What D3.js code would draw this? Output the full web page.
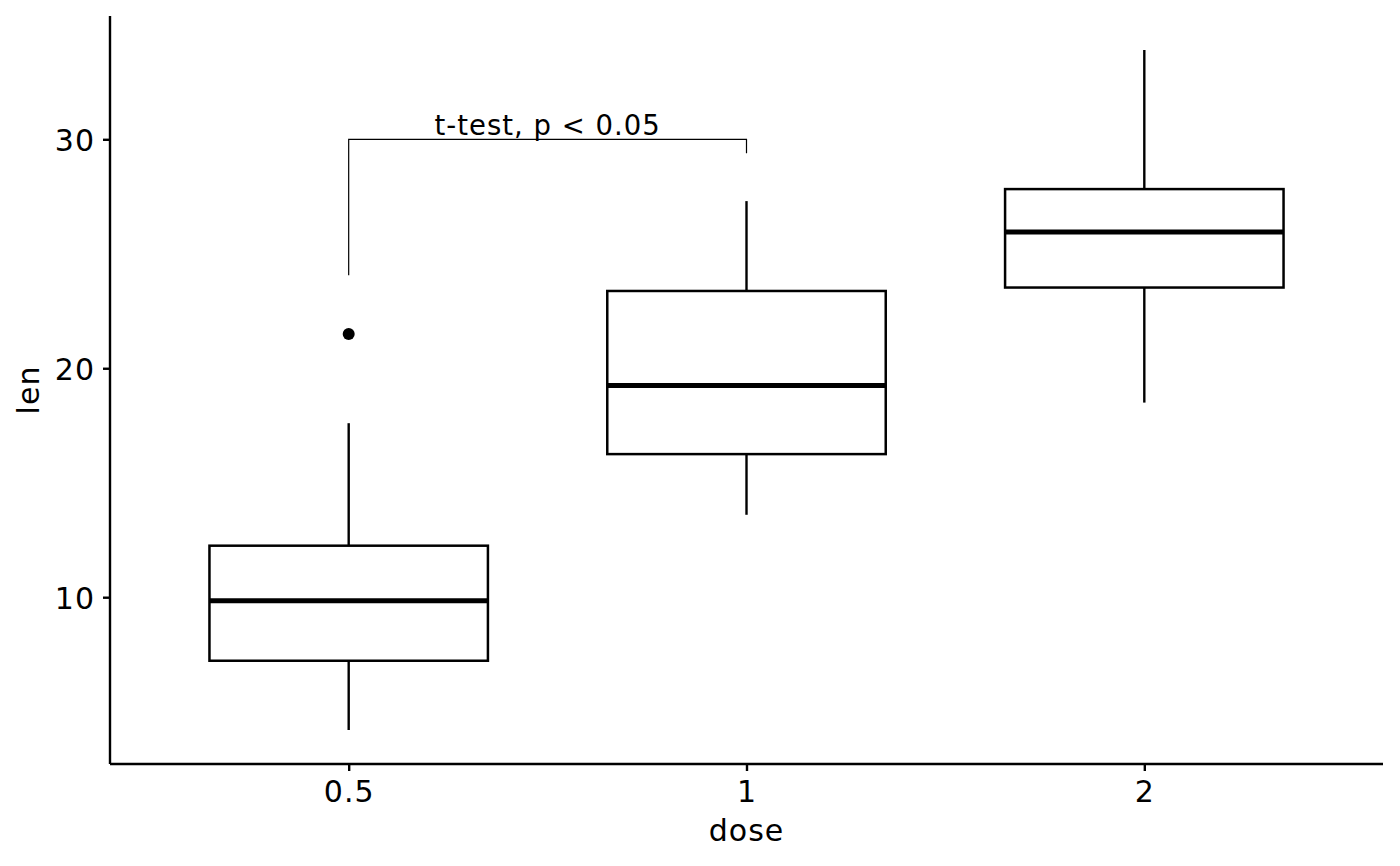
<!DOCTYPE html>
<html>
<head>
<meta charset="utf-8">
<script src="https://cdn.jsdelivr.net/npm/d3@7"></script>
<style>
  body { margin: 0; background: #fff; }
  text { font-family: "DejaVu Sans", sans-serif; }
</style>
</head>
<body>
<svg></svg>
<script>
'use strict';

const svgWidth = 1400;
const svgHeight = 866;

// ToothGrowth len by dose, box statistics
const doses = ['0.5', '1', '2'];
const lowerWhisker = [4.2, 13.6, 18.5];
const q1 = [7.225, 16.25, 23.525];
const medians = [9.85, 19.25, 25.95];
const q3 = [12.25, 23.375, 27.825];
const upperWhisker = [17.6, 27.3, 33.9];
const outliers = [{ dose: '0.5', len: 21.5 }];

const yTicks = [10, 20, 30];

// comparison bracket
const bracket = { from: '0.5', to: '1', y: 30, tipLeft: 24.06, tipRight: 29.39, label: 't-test, p < 0.05' };

const margin = { top: 16, right: 17, bottom: 102, left: 110 };
const innerW = svgWidth - margin.left - margin.right;
const innerH = svgHeight - margin.top - margin.bottom;

const svg = d3.select('svg')
  .attr('width', svgWidth)
  .attr('height', svgHeight);

const g = svg.append('g')
  .attr('transform', `translate(${margin.left},${margin.top})`);

// discrete scale with ggplot-like 0.6 expansion
const xIndex = d3.scaleLinear()
  .domain([-0.6, doses.length - 1 + 0.6])
  .range([0, innerW]);
const x = d => xIndex(doses.indexOf(d));
const step = xIndex(1) - xIndex(0);
const boxW = step * 0.7;

const yMin = 4.2, yMax = 33.9;
const pad = (yMax - yMin) * 0.05;
const y = d3.scaleLinear()
  .domain([yMin - pad, yMax + pad])
  .range([innerH, 0]);

const boxes = doses.map((d, i) => ({
  dose: d, lo: lowerWhisker[i], q1: q1[i], med: medians[i], q3: q3[i], hi: upperWhisker[i]
}));

const boxG = g.append('g');

// whiskers
boxG.selectAll('line.wlo')
  .data(boxes)
  .join('line')
  .attr('x1', d => x(d.dose)).attr('x2', d => x(d.dose))
  .attr('y1', d => y(d.lo)).attr('y2', d => y(d.q1))
  .attr('stroke', 'black').attr('stroke-width', 2.4);

boxG.selectAll('line.whi')
  .data(boxes)
  .join('line')
  .attr('x1', d => x(d.dose)).attr('x2', d => x(d.dose))
  .attr('y1', d => y(d.q3)).attr('y2', d => y(d.hi))
  .attr('stroke', 'black').attr('stroke-width', 2.4);

boxG.selectAll('rect')
  .data(boxes)
  .join('rect')
  .attr('x', d => x(d.dose) - boxW / 2)
  .attr('width', boxW)
  .attr('y', d => y(d.q3))
  .attr('height', d => y(d.q1) - y(d.q3))
  .attr('fill', 'white')
  .attr('stroke', 'black')
  .attr('stroke-width', 2.5);

boxG.selectAll('line.med')
  .data(boxes)
  .join('line')
  .attr('x1', d => x(d.dose) - boxW / 2).attr('x2', d => x(d.dose) + boxW / 2)
  .attr('y1', d => y(d.med)).attr('y2', d => y(d.med))
  .attr('stroke', 'black').attr('stroke-width', 5);

boxG.selectAll('circle')
  .data(outliers)
  .join('circle')
  .attr('cx', d => x(d.dose))
  .attr('cy', d => y(d.len))
  .attr('r', 6)
  .attr('fill', 'black');

// bracket
const bx1 = x(bracket.from), bx2 = x(bracket.to);
g.append('path')
  .attr('d', `M${bx1},${y(bracket.tipLeft)} V${y(bracket.y)} H${bx2} V${y(bracket.tipRight)}`)
  .attr('fill', 'none')
  .attr('stroke', 'black')
  .attr('stroke-width', 1.2);

g.append('text')
  .attr('x', (bx1 + bx2) / 2)
  .attr('y', y(bracket.y) - 4)
  .attr('text-anchor', 'middle')
  .attr('font-size', 27.5)
  .attr('letter-spacing', 1)
  .attr('fill', 'black')
  .text(bracket.label);

// axes
const yAxis = g.append('g')
  .call(d3.axisLeft(y).tickValues(yTicks).tickSize(7).tickPadding(8));
const xAxis = g.append('g')
  .attr('transform', `translate(0,${innerH})`)
  .call(d3.axisBottom(xIndex).tickValues(d3.range(doses.length))
    .tickFormat(i => doses[i]).tickSize(7).tickPadding(8));

[yAxis, xAxis].forEach(a => {
  a.select('.domain').attr('stroke', 'black').attr('stroke-width', 2.4);
  a.selectAll('.tick line').attr('stroke', 'black').attr('stroke-width', 2.4);
  a.selectAll('.tick text')
    .attr('font-family', 'DejaVu Sans, sans-serif')
    .attr('font-size', 30)
    .attr('letter-spacing', 1)
    .attr('fill', 'black');
});
yAxis.select('.domain').attr('d', `M0,${innerH}V0`);
xAxis.select('.domain').attr('d', `M0,0H${innerW}`);
yAxis.selectAll('.tick text').attr('dy', '0.36em');
xAxis.selectAll('.tick text').attr('dy', '0.76em');

svg.append('text')
  .attr('x', margin.left + xIndex(1))
  .attr('y', 841)
  .attr('text-anchor', 'middle')
  .attr('font-size', 30)
  .attr('letter-spacing', 1)
  .attr('fill', 'black')
  .text('dose');

svg.append('text')
  .attr('transform', `translate(39,${margin.top + innerH / 2}) rotate(-90)`)
  .attr('text-anchor', 'middle')
  .attr('font-size', 30)
  .attr('letter-spacing', 1)
  .attr('fill', 'black')
  .text('len');
</script>
</body>
</html>
